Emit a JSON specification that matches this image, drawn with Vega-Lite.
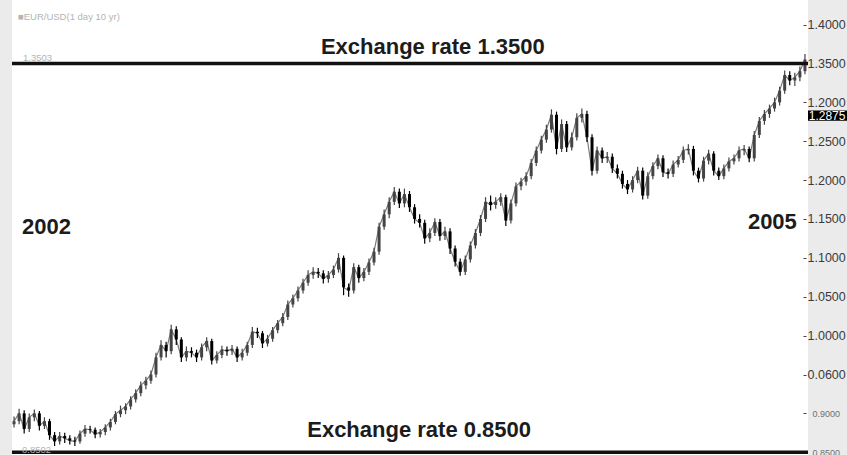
{
"$schema": "https://vega.github.io/schema/vega-lite/v6.json",
"width": 796,
"height": 455,
"autosize": {"type": "none"},
"padding": {"left": 12, "right": 39, "top": 0, "bottom": 0},
"background": "#ebebeb",
"config": {"view": {"fill": "white", "stroke": null}},
"resolve": {"scale": {"x": "shared", "y": "shared"}, "axis": {"x": "independent", "y": "independent"}},
"datasets": {
"ohlc": [
{"w":0,"o":0.886,"c":0.890,"h":0.896,"l":0.882},
{"w":1,"o":0.890,"c":0.900,"h":0.906,"l":0.886},
{"w":2,"o":0.900,"c":0.880,"h":0.904,"l":0.874},
{"w":3,"o":0.880,"c":0.895,"h":0.900,"l":0.876},
{"w":4,"o":0.895,"c":0.900,"h":0.905,"l":0.890},
{"w":5,"o":0.900,"c":0.884,"h":0.903,"l":0.878},
{"w":6,"o":0.884,"c":0.890,"h":0.895,"l":0.880},
{"w":7,"o":0.890,"c":0.872,"h":0.893,"l":0.866},
{"w":8,"o":0.872,"c":0.864,"h":0.876,"l":0.858},
{"w":9,"o":0.864,"c":0.871,"h":0.876,"l":0.860},
{"w":10,"o":0.871,"c":0.868,"h":0.875,"l":0.862},
{"w":11,"o":0.868,"c":0.865,"h":0.872,"l":0.860},
{"w":12,"o":0.865,"c":0.864,"h":0.870,"l":0.858},
{"w":13,"o":0.864,"c":0.874,"h":0.878,"l":0.861},
{"w":14,"o":0.874,"c":0.880,"h":0.885,"l":0.870},
{"w":15,"o":0.880,"c":0.879,"h":0.884,"l":0.874},
{"w":16,"o":0.879,"c":0.873,"h":0.882,"l":0.868},
{"w":17,"o":0.873,"c":0.876,"h":0.880,"l":0.869},
{"w":18,"o":0.876,"c":0.882,"h":0.886,"l":0.872},
{"w":19,"o":0.882,"c":0.889,"h":0.893,"l":0.878},
{"w":20,"o":0.889,"c":0.899,"h":0.903,"l":0.886},
{"w":21,"o":0.899,"c":0.904,"h":0.910,"l":0.895},
{"w":22,"o":0.904,"c":0.909,"h":0.913,"l":0.899},
{"w":23,"o":0.909,"c":0.918,"h":0.922,"l":0.905},
{"w":24,"o":0.918,"c":0.926,"h":0.931,"l":0.914},
{"w":25,"o":0.926,"c":0.936,"h":0.941,"l":0.922},
{"w":26,"o":0.936,"c":0.942,"h":0.947,"l":0.931},
{"w":27,"o":0.942,"c":0.950,"h":0.955,"l":0.938},
{"w":28,"o":0.950,"c":0.972,"h":0.978,"l":0.946},
{"w":29,"o":0.972,"c":0.988,"h":0.994,"l":0.968},
{"w":30,"o":0.988,"c":0.980,"h":0.992,"l":0.972},
{"w":31,"o":0.980,"c":1.008,"h":1.014,"l":0.976},
{"w":32,"o":1.008,"c":0.995,"h":1.012,"l":0.988},
{"w":33,"o":0.995,"c":0.972,"h":0.998,"l":0.966},
{"w":34,"o":0.972,"c":0.980,"h":0.986,"l":0.967},
{"w":35,"o":0.980,"c":0.978,"h":0.985,"l":0.972},
{"w":36,"o":0.978,"c":0.972,"h":0.982,"l":0.966},
{"w":37,"o":0.972,"c":0.985,"h":0.990,"l":0.968},
{"w":38,"o":0.985,"c":0.993,"h":0.998,"l":0.980},
{"w":39,"o":0.993,"c":0.968,"h":0.996,"l":0.963},
{"w":40,"o":0.968,"c":0.975,"h":0.980,"l":0.964},
{"w":41,"o":0.975,"c":0.982,"h":0.987,"l":0.971},
{"w":42,"o":0.982,"c":0.980,"h":0.986,"l":0.974},
{"w":43,"o":0.980,"c":0.983,"h":0.988,"l":0.975},
{"w":44,"o":0.983,"c":0.972,"h":0.986,"l":0.966},
{"w":45,"o":0.972,"c":0.978,"h":0.983,"l":0.968},
{"w":46,"o":0.978,"c":0.988,"h":0.992,"l":0.974},
{"w":47,"o":0.988,"c":1.005,"h":1.011,"l":0.984},
{"w":48,"o":1.005,"c":1.003,"h":1.010,"l":0.997},
{"w":49,"o":1.003,"c":0.990,"h":1.006,"l":0.984},
{"w":50,"o":0.990,"c":0.996,"h":1.001,"l":0.986},
{"w":51,"o":0.996,"c":1.007,"h":1.011,"l":0.992},
{"w":52,"o":1.007,"c":1.016,"h":1.020,"l":1.003},
{"w":53,"o":1.016,"c":1.024,"h":1.029,"l":1.012},
{"w":54,"o":1.024,"c":1.040,"h":1.045,"l":1.020},
{"w":55,"o":1.040,"c":1.048,"h":1.053,"l":1.036},
{"w":56,"o":1.048,"c":1.058,"h":1.063,"l":1.044},
{"w":57,"o":1.058,"c":1.068,"h":1.073,"l":1.054},
{"w":58,"o":1.068,"c":1.078,"h":1.084,"l":1.064},
{"w":59,"o":1.078,"c":1.082,"h":1.088,"l":1.073},
{"w":60,"o":1.082,"c":1.080,"h":1.087,"l":1.074},
{"w":61,"o":1.080,"c":1.073,"h":1.084,"l":1.067},
{"w":62,"o":1.073,"c":1.078,"h":1.083,"l":1.068},
{"w":63,"o":1.078,"c":1.085,"h":1.090,"l":1.074},
{"w":64,"o":1.085,"c":1.100,"h":1.106,"l":1.081},
{"w":65,"o":1.100,"c":1.062,"h":1.103,"l":1.052},
{"w":66,"o":1.062,"c":1.058,"h":1.067,"l":1.050},
{"w":67,"o":1.058,"c":1.088,"h":1.093,"l":1.054},
{"w":68,"o":1.088,"c":1.074,"h":1.091,"l":1.068},
{"w":69,"o":1.074,"c":1.082,"h":1.087,"l":1.070},
{"w":70,"o":1.082,"c":1.094,"h":1.099,"l":1.078},
{"w":71,"o":1.094,"c":1.108,"h":1.113,"l":1.090},
{"w":72,"o":1.108,"c":1.140,"h":1.145,"l":1.104},
{"w":73,"o":1.140,"c":1.156,"h":1.162,"l":1.136},
{"w":74,"o":1.156,"c":1.172,"h":1.178,"l":1.151},
{"w":75,"o":1.172,"c":1.185,"h":1.191,"l":1.168},
{"w":76,"o":1.185,"c":1.170,"h":1.189,"l":1.164},
{"w":77,"o":1.170,"c":1.182,"h":1.189,"l":1.165},
{"w":78,"o":1.182,"c":1.165,"h":1.186,"l":1.159},
{"w":79,"o":1.165,"c":1.150,"h":1.169,"l":1.144},
{"w":80,"o":1.150,"c":1.145,"h":1.156,"l":1.139},
{"w":81,"o":1.145,"c":1.125,"h":1.149,"l":1.118},
{"w":82,"o":1.125,"c":1.132,"h":1.138,"l":1.120},
{"w":83,"o":1.132,"c":1.146,"h":1.151,"l":1.128},
{"w":84,"o":1.146,"c":1.128,"h":1.150,"l":1.122},
{"w":85,"o":1.128,"c":1.134,"h":1.140,"l":1.123},
{"w":86,"o":1.134,"c":1.112,"h":1.138,"l":1.105},
{"w":87,"o":1.112,"c":1.095,"h":1.116,"l":1.089},
{"w":88,"o":1.095,"c":1.082,"h":1.099,"l":1.077},
{"w":89,"o":1.082,"c":1.098,"h":1.103,"l":1.078},
{"w":90,"o":1.098,"c":1.116,"h":1.121,"l":1.094},
{"w":91,"o":1.116,"c":1.132,"h":1.137,"l":1.112},
{"w":92,"o":1.132,"c":1.150,"h":1.155,"l":1.128},
{"w":93,"o":1.150,"c":1.172,"h":1.178,"l":1.146},
{"w":94,"o":1.172,"c":1.168,"h":1.180,"l":1.161},
{"w":95,"o":1.168,"c":1.172,"h":1.178,"l":1.163},
{"w":96,"o":1.172,"c":1.178,"h":1.183,"l":1.167},
{"w":97,"o":1.178,"c":1.148,"h":1.181,"l":1.141},
{"w":98,"o":1.148,"c":1.170,"h":1.175,"l":1.144},
{"w":99,"o":1.170,"c":1.192,"h":1.197,"l":1.166},
{"w":100,"o":1.192,"c":1.198,"h":1.203,"l":1.187},
{"w":101,"o":1.198,"c":1.205,"h":1.210,"l":1.193},
{"w":102,"o":1.205,"c":1.222,"h":1.227,"l":1.201},
{"w":103,"o":1.222,"c":1.238,"h":1.243,"l":1.218},
{"w":104,"o":1.238,"c":1.252,"h":1.257,"l":1.234},
{"w":105,"o":1.252,"c":1.265,"h":1.271,"l":1.248},
{"w":106,"o":1.265,"c":1.284,"h":1.291,"l":1.261},
{"w":107,"o":1.284,"c":1.240,"h":1.288,"l":1.233},
{"w":108,"o":1.240,"c":1.272,"h":1.278,"l":1.236},
{"w":109,"o":1.272,"c":1.242,"h":1.276,"l":1.236},
{"w":110,"o":1.242,"c":1.255,"h":1.261,"l":1.238},
{"w":111,"o":1.255,"c":1.280,"h":1.286,"l":1.251},
{"w":112,"o":1.280,"c":1.285,"h":1.292,"l":1.274},
{"w":113,"o":1.285,"c":1.255,"h":1.289,"l":1.249},
{"w":114,"o":1.255,"c":1.212,"h":1.259,"l":1.206},
{"w":115,"o":1.212,"c":1.238,"h":1.243,"l":1.208},
{"w":116,"o":1.238,"c":1.228,"h":1.242,"l":1.222},
{"w":117,"o":1.228,"c":1.230,"h":1.236,"l":1.222},
{"w":118,"o":1.230,"c":1.215,"h":1.234,"l":1.209},
{"w":119,"o":1.215,"c":1.208,"h":1.220,"l":1.202},
{"w":120,"o":1.208,"c":1.195,"h":1.212,"l":1.189},
{"w":121,"o":1.195,"c":1.188,"h":1.200,"l":1.182},
{"w":122,"o":1.188,"c":1.200,"h":1.205,"l":1.184},
{"w":123,"o":1.200,"c":1.212,"h":1.217,"l":1.196},
{"w":124,"o":1.212,"c":1.180,"h":1.216,"l":1.175},
{"w":125,"o":1.180,"c":1.205,"h":1.210,"l":1.176},
{"w":126,"o":1.205,"c":1.218,"h":1.223,"l":1.201},
{"w":127,"o":1.218,"c":1.228,"h":1.233,"l":1.214},
{"w":128,"o":1.228,"c":1.210,"h":1.232,"l":1.204},
{"w":129,"o":1.210,"c":1.208,"h":1.215,"l":1.202},
{"w":130,"o":1.208,"c":1.220,"h":1.225,"l":1.204},
{"w":131,"o":1.220,"c":1.226,"h":1.231,"l":1.216},
{"w":132,"o":1.226,"c":1.238,"h":1.243,"l":1.222},
{"w":133,"o":1.238,"c":1.240,"h":1.246,"l":1.233},
{"w":134,"o":1.240,"c":1.212,"h":1.244,"l":1.206},
{"w":135,"o":1.212,"c":1.202,"h":1.216,"l":1.197},
{"w":136,"o":1.202,"c":1.225,"h":1.230,"l":1.198},
{"w":137,"o":1.225,"c":1.234,"h":1.239,"l":1.220},
{"w":138,"o":1.234,"c":1.212,"h":1.237,"l":1.206},
{"w":139,"o":1.212,"c":1.205,"h":1.216,"l":1.200},
{"w":140,"o":1.205,"c":1.215,"h":1.220,"l":1.201},
{"w":141,"o":1.215,"c":1.224,"h":1.229,"l":1.211},
{"w":142,"o":1.224,"c":1.228,"h":1.233,"l":1.220},
{"w":143,"o":1.228,"c":1.238,"h":1.243,"l":1.224},
{"w":144,"o":1.238,"c":1.240,"h":1.245,"l":1.232},
{"w":145,"o":1.240,"c":1.228,"h":1.243,"l":1.223},
{"w":146,"o":1.228,"c":1.258,"h":1.263,"l":1.224},
{"w":147,"o":1.258,"c":1.276,"h":1.281,"l":1.254},
{"w":148,"o":1.276,"c":1.285,"h":1.290,"l":1.271},
{"w":149,"o":1.285,"c":1.292,"h":1.297,"l":1.280},
{"w":150,"o":1.292,"c":1.300,"h":1.306,"l":1.288},
{"w":151,"o":1.300,"c":1.315,"h":1.320,"l":1.296},
{"w":152,"o":1.315,"c":1.335,"h":1.341,"l":1.311},
{"w":153,"o":1.335,"c":1.328,"h":1.340,"l":1.322},
{"w":154,"o":1.328,"c":1.332,"h":1.338,"l":1.321},
{"w":155,"o":1.332,"c":1.340,"h":1.346,"l":1.327},
{"w":156,"o":1.340,"c":1.355,"h":1.362,"l":1.336}
]
},
"layer": [
{
"data": {"name": "ohlc"},
"mark": {"type": "line", "color": "#7a7a7a", "strokeWidth": 1.2},
"encoding": {
"x": {"field": "w", "type": "quantitative", "scale": {"domain": [-0.4, 156.6], "nice": false, "zero": false, "padding": 0}, "axis": null},
"y": {"field": "c", "type": "quantitative", "scale": {"domain": [0.8465, 1.4315], "nice": false, "zero": false, "padding": 0},
"axis": {"orient": "right", "title": null, "offset": -5, "domain": false, "grid": false,
"values": [0.85, 0.9, 0.95, 1.0, 1.05, 1.1, 1.15, 1.2, 1.25, 1.3, 1.35, 1.4],
"labelExpr": "abs(datum.value-1.3)<0.001 ? '1.2000' : (abs(datum.value-0.95)<0.001 ? '0.0600' : format(datum.value, '.4f'))",
"tickSize": 3, "tickColor": "#444444", "tickWidth": 1,
"labelPadding": {"condition": {"test": "datum.value < 0.93", "value": 6}, "value": 1},
"labelFont": "Liberation Sans",
"labelFontSize": {"condition": {"test": "datum.value < 0.93", "value": 9}, "value": 12.5},
"labelColor": {"condition": {"test": "datum.value < 0.93", "value": "#6f6f6f"}, "value": "#3a3a3a"},
"labelOverlap": false, "labelFlush": false, "labelBound": false}}
}
},
{
"data": {"name": "ohlc"},
"mark": {"type": "rule", "strokeWidth": 1.2},
"encoding": {
"x": {"field": "w", "type": "quantitative", "axis": null},
"y": {"field": "l", "type": "quantitative", "axis": null},
"y2": {"field": "h"},
"color": {"condition": {"test": "datum.c >= datum.o", "value": "#444444"}, "value": "#000000"}
}
},
{
"data": {"name": "ohlc"},
"mark": {"type": "bar", "size": 3},
"encoding": {
"x": {"field": "w", "type": "quantitative", "axis": null},
"y": {"field": "o", "type": "quantitative", "axis": null},
"y2": {"field": "c"},
"color": {"condition": {"test": "datum.c >= datum.o", "value": "#444444"}, "value": "#000000"}
}
},
{
"data": {"values": [{"rate": 1.35}, {"rate": 0.85}]},
"mark": {"type": "rule", "color": "#111111", "strokeWidth": 3.5},
"encoding": {"y": {"field": "rate", "type": "quantitative", "axis": null}}
},
{
"data": {"values": [{"w": 156.6, "w2": 164.5, "v1": 1.2895, "v2": 1.2762}]},
"mark": {"type": "rect", "color": "#000000"},
"encoding": {
"x": {"field": "w", "type": "quantitative", "axis": null},
"x2": {"field": "w2"},
"y": {"field": "v1", "type": "quantitative", "axis": null},
"y2": {"field": "v2"}
}
},
{
"data": {"values": [{"w": 156.75, "v": 1.2828, "label": "1.2875"}]},
"mark": {"type": "text", "color": "#ffffff", "font": "Liberation Sans", "fontSize": 12, "align": "left", "baseline": "middle"},
"encoding": {
"x": {"field": "w", "type": "quantitative", "axis": null},
"y": {"field": "v", "type": "quantitative", "axis": null},
"text": {"field": "label"}
}
},
{
"data": {"values": [
{"w": 82.6, "v": 1.3621, "label": "Exchange rate 1.3500"},
{"w": 79.9, "v": 0.8698, "label": "Exchange rate 0.8500"}
]},
"mark": {"type": "text", "color": "#1c1c1c", "font": "Liberation Sans", "fontWeight": "bold", "fontSize": 22, "align": "center", "baseline": "alphabetic"},
"encoding": {
"x": {"field": "w", "type": "quantitative", "axis": null},
"y": {"field": "v", "type": "quantitative", "axis": null},
"text": {"field": "label"}
}
},
{
"data": {"values": [{"w": 1.57, "v": 1.1307, "label": "2002"}]},
"mark": {"type": "text", "color": "#1c1c1c", "font": "Liberation Sans", "fontWeight": "bold", "fontSize": 22, "align": "left", "baseline": "alphabetic"},
"encoding": {
"x": {"field": "w", "type": "quantitative", "axis": null},
"y": {"field": "v", "type": "quantitative", "axis": null},
"text": {"field": "label"}
}
},
{
"data": {"values": [{"w": 154.4, "v": 1.1372, "label": "2005"}]},
"mark": {"type": "text", "color": "#1c1c1c", "font": "Liberation Sans", "fontWeight": "bold", "fontSize": 22, "align": "right", "baseline": "alphabetic"},
"encoding": {
"x": {"field": "w", "type": "quantitative", "axis": null},
"y": {"field": "v", "type": "quantitative", "axis": null},
"text": {"field": "label"}
}
},
{
"data": {"values": [
{"w": 0.78, "v": 1.4058, "label": "■EUR/USD(1 day 10 yr)"},
{"w": 1.77, "v": 1.3531, "label": "1.3503"},
{"w": 1.57, "v": 0.8493, "label": "0.8502"}
]},
"mark": {"type": "text", "color": "#b4b4b4", "font": "Liberation Sans", "fontSize": 9.5, "align": "left", "baseline": "alphabetic"},
"encoding": {
"x": {"field": "w", "type": "quantitative", "axis": null},
"y": {"field": "v", "type": "quantitative", "axis": null},
"text": {"field": "label"}
}
}
]
}
